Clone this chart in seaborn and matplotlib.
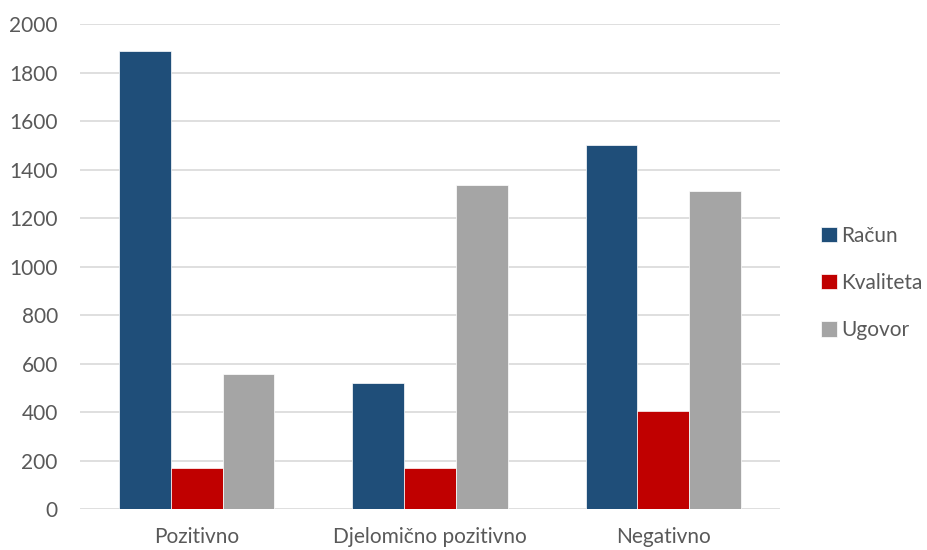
import pandas as pd
import matplotlib.pyplot as plt
import seaborn as sns

categories = ["Pozitivno", "Djelomično pozitivno", "Negativno"]
series = ["Račun", "Kvaliteta", "Ugovor"]
racun = [1890, 520, 1500]
kvaliteta = [170, 170, 405]
ugovor = [555, 1335, 1313]
colors = ["#1F4E79", "#C00000", "#A5A5A5"]

df = pd.DataFrame({
    "kategorija": categories * 3,
    "serija": [s for s in series for _ in categories],
    "vrijednost": racun + kvaliteta + ugovor,
})

sns.set_style("white")
plt.rcParams["font.family"] = ["Lato", "DejaVu Sans"]
text_col = "#595959"

fig = plt.figure(figsize=(9.27, 5.5), dpi=100)
ax = fig.add_axes([0.0863, 0.0745, 0.755, 0.8815])

sns.barplot(data=df, x="kategorija", y="vrijednost", hue="serija",
            palette=colors, width=0.665, gap=0, ax=ax,
            edgecolor="white", linewidth=0.5, saturation=1, legend=True)

ax.set_ylim(0, 2000)
ax.set_xlim(-0.5, 2.5)
ax.set_yticks(range(0, 2001, 200))
ax.yaxis.grid(True, color="#D9D9D9", linewidth=1.2)
ax.set_axisbelow(True)
for s in ax.spines.values():
    s.set_visible(False)
ax.set_xlabel("")
ax.set_ylabel("")
ax.tick_params(axis="y", length=0, pad=16, labelsize=15, labelcolor=text_col)
ax.tick_params(axis="x", length=0, pad=13, labelsize=15, labelcolor=text_col)

handles, labels = ax.get_legend_handles_labels()
ax.legend(handles, labels, loc="center left", bbox_to_anchor=(1.032, 0.466),
          frameon=False, fontsize=15, labelcolor=text_col,
          handlelength=0.75, handleheight=0.75, handletextpad=0.2,
          labelspacing=1.3)

fig.savefig("out.png", dpi=100)
